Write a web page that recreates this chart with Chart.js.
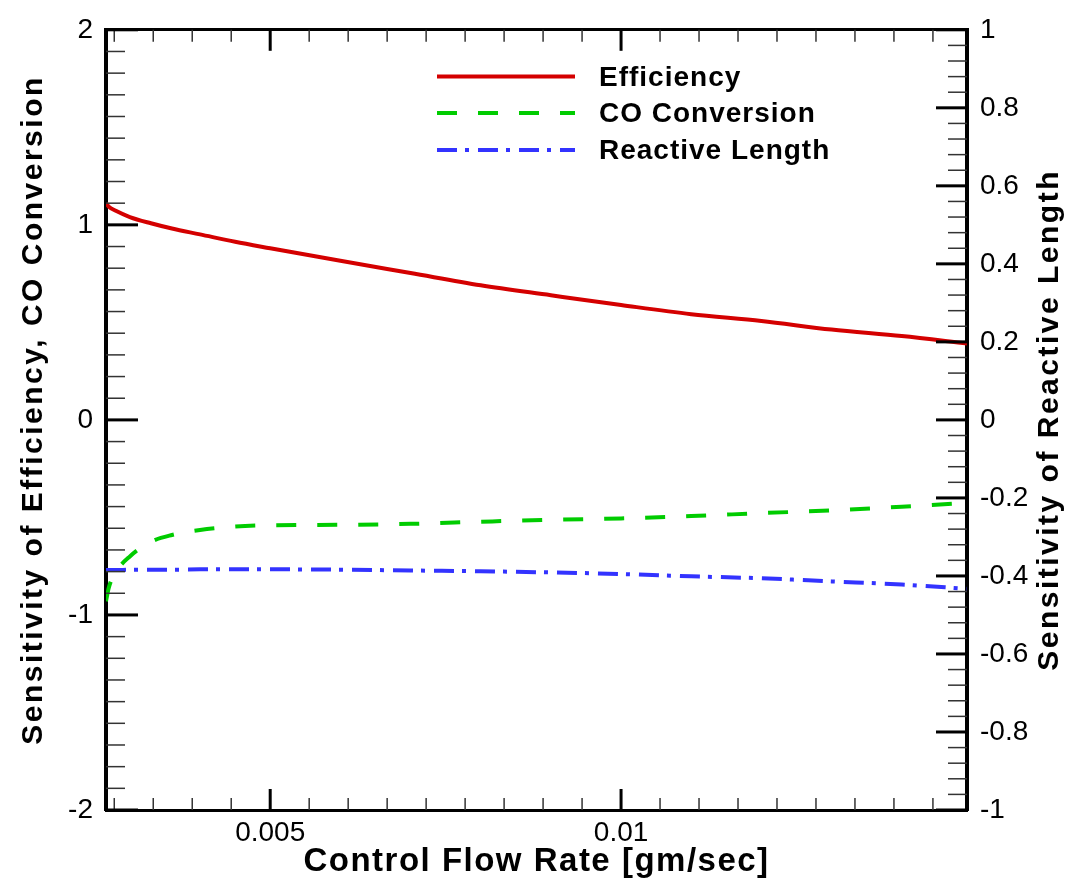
<!DOCTYPE html>
<html>
<head>
<meta charset="utf-8">
<script src="https://cdn.jsdelivr.net/npm/chart.js@4/dist/chart.umd.min.js"></script>
<style>
  html, body { margin: 0; padding: 0; background: #fff; }
  #wrap { width: 1069px; height: 881px; }
</style>
</head>
<body>
<div id="wrap"><canvas id="sens-chart" width="1069" height="881"></canvas></div>
<script>
// control flow rate [gm/sec]
const flowRate = [0.00266, 0.0027, 0.0028, 0.003, 0.0033, 0.0036, 0.004, 0.0045, 0.005, 0.006,
                  0.007, 0.008, 0.009, 0.01, 0.011, 0.012, 0.013, 0.014, 0.01493];
// left axis series
const efficiency = [1.11, 1.093, 1.072, 1.04, 1.008, 0.981, 0.951, 0.913, 0.88, 0.816,
                    0.753, 0.69, 0.639, 0.589, 0.542, 0.507, 0.463, 0.43, 0.392];
const coConversion = [-0.93, -0.86, -0.78, -0.70, -0.625, -0.59, -0.564, -0.547, -0.54, -0.538,
                      -0.533, -0.522, -0.512, -0.505, -0.493, -0.478, -0.464, -0.445, -0.425];
// right axis series
const reactiveLength = [-0.385, -0.385, -0.385, -0.384, -0.384, -0.384, -0.383, -0.383, -0.383, -0.384,
                        -0.386, -0.388, -0.391, -0.395, -0.401, -0.406, -0.414, -0.422, -0.433];

// labelled ticks
const xTicks = [0.005, 0.01];
const leftTicks = [-2, -1, 0, 1, 2];
const rightTicks = [-1, -0.8, -0.6, -0.4, -0.2, 0, 0.2, 0.4, 0.6, 0.8, 1];

const FONT = "'Liberation Sans', Arial, Helvetica, sans-serif";

function toPoints(ys) {
    return flowRate.map((x, i) => ({ x: x, y: ys[i] }));
}

// minor tick values between (and outside) the labelled ones
function minorValues(majors, div, min, max) {
    const step = (majors[1] - majors[0]) / div;
    const out = [];
    const k0 = -Math.floor((majors[0] - min) / step + 1e-9);
    for (let k = k0; ; k++) {
        const v = majors[0] + k * step;
        if (v > max + 1e-12) break;
        if (((k % div) + div) % div !== 0) out.push(v);
    }
    return out;
}

function seg(ctx, x1, y1, x2, y2, w, color) {
    ctx.beginPath();
    ctx.lineWidth = w;
    ctx.strokeStyle = color;
    ctx.moveTo(x1, y1);
    ctx.lineTo(x2, y2);
    ctx.stroke();
}

// inward tick marks, major and minor
const tickMarks = {
    id: 'tickMarks',
    afterDraw(chart) {
        const { ctx, chartArea: a, scales } = chart;
        ctx.save();
        ctx.lineCap = 'butt';
        const xs = scales.x;
        minorValues(xTicks, 9, xs.min, xs.max).forEach(v => {
            const p = xs.getPixelForValue(v);
            seg(ctx, p, a.bottom, p, a.bottom - 12, 1.5, '#333');
            seg(ctx, p, a.top, p, a.top + 12, 1.5, '#333');
        });
        xTicks.forEach(v => {
            const p = xs.getPixelForValue(v);
            seg(ctx, p, a.bottom, p, a.bottom - 21, 3, '#000');
            seg(ctx, p, a.top, p, a.top + 21, 3, '#000');
        });
        const yl = scales.y;
        minorValues(leftTicks, 9, yl.min, yl.max).forEach(v => {
            const p = yl.getPixelForValue(v);
            seg(ctx, a.left, p, a.left + 19, p, 1.5, '#333');
        });
        leftTicks.forEach(v => {
            const p = yl.getPixelForValue(v);
            seg(ctx, a.left, p, a.left + 32, p, 3, '#000');
        });
        const yr = scales.y2;
        minorValues(rightTicks, 5, yr.min, yr.max).forEach(v => {
            const p = yr.getPixelForValue(v);
            seg(ctx, a.right, p, a.right - 19, p, 1.5, '#333');
        });
        rightTicks.forEach(v => {
            const p = yr.getPixelForValue(v);
            seg(ctx, a.right, p, a.right - 31, p, 3, '#000');
        });
        ctx.restore();
    }
};

// axis titles, both vertical ones read bottom to top
const axisTitles = {
    id: 'axisTitles',
    afterDraw(chart) {
        const { ctx, chartArea: a } = chart;
        ctx.save();
        ctx.fillStyle = '#000';
        ctx.textAlign = 'center';
        ctx.textBaseline = 'alphabetic';

        ctx.font = 'bold 33px ' + FONT;
        ctx.letterSpacing = '1.5px';
        ctx.fillText('Control Flow Rate [gm/sec]', (a.left + a.right) / 2, 871);

        ctx.font = 'bold 30px ' + FONT;
        ctx.letterSpacing = '2.5px';
        ctx.save();
        ctx.translate(42, 410);
        ctx.rotate(-Math.PI / 2);
        ctx.fillText('Sensitivity of Efficiency, CO Conversion', 0, 0);
        ctx.restore();

        ctx.save();
        ctx.translate(1058, (a.top + a.bottom) / 2);
        ctx.rotate(-Math.PI / 2);
        ctx.fillText('Sensitivity of Reactive Length', 0, 0);
        ctx.restore();
        ctx.restore();
    }
};

// legend inside the plot, using each dataset's own line style
const lineLegend = {
    id: 'lineLegend',
    afterDraw(chart) {
        const ctx = chart.ctx;
        const rows = [76.5, 113, 150];
        ctx.save();
        ctx.font = 'bold 28px ' + FONT;
        ctx.letterSpacing = '1px';
        ctx.textAlign = 'left';
        ctx.textBaseline = 'alphabetic';
        chart.data.datasets.forEach((ds, i) => {
            const y = rows[i];
            ctx.beginPath();
            ctx.lineCap = 'butt';
            ctx.lineWidth = ds.borderWidth;
            ctx.strokeStyle = ds.borderColor;
            ctx.setLineDash(ds.borderDash || []);
            ctx.moveTo(437, y);
            ctx.lineTo(575, y);
            ctx.stroke();
            ctx.setLineDash([]);
            ctx.fillStyle = '#000';
            ctx.fillText(ds.label, 599, y + 9);
        });
        ctx.restore();
    }
};

const xMin = 0.00266;
const xMax = 0.01493;

new Chart(document.getElementById('sens-chart').getContext('2d'), {
    type: 'line',
    data: {
        datasets: [
            {
                label: 'Efficiency',
                data: toPoints(efficiency),
                yAxisID: 'y',
                borderColor: '#d40000',
                borderWidth: 4,
                cubicInterpolationMode: 'monotone',
                pointRadius: 0,
                fill: false
            },
            {
                label: 'CO Conversion',
                data: toPoints(coConversion),
                yAxisID: 'y',
                borderColor: '#00cc00',
                borderWidth: 4,
                borderDash: [20, 21],
                borderCapStyle: 'butt',
                cubicInterpolationMode: 'monotone',
                pointRadius: 0,
                fill: false
            },
            {
                label: 'Reactive Length',
                data: toPoints(reactiveLength),
                yAxisID: 'y2',
                borderColor: '#3333ff',
                borderWidth: 4,
                borderDash: [20, 8, 4, 9],
                borderCapStyle: 'butt',
                cubicInterpolationMode: 'monotone',
                pointRadius: 0,
                fill: false
            }
        ]
    },
    options: {
        responsive: false,
        animation: false,
        layout: { padding: 0 },
        plugins: {
            legend: { display: false },
            tooltip: { enabled: false }
        },
        scales: {
            x: {
                type: 'linear',
                position: 'bottom',
                min: xMin,
                max: xMax,
                afterBuildTicks: s => { s.ticks = xTicks.map(v => ({ value: v })); },
                ticks: {
                    callback: v => String(v),
                    font: { family: FONT, size: 28 },
                    color: '#000',
                    padding: 6,
                    maxRotation: 0,
                    autoSkip: false
                },
                grid: { display: false, drawTicks: false },
                border: { display: true, color: '#000', width: 3 },
                afterFit: s => { s.height = 71; }
            },
            x2: {
                type: 'linear',
                position: 'top',
                min: xMin,
                max: xMax,
                ticks: { display: false },
                grid: { display: false, drawTicks: false },
                border: { display: true, color: '#000', width: 3 },
                afterFit: s => { s.height = 23; }
            },
            y: {
                type: 'linear',
                position: 'left',
                min: -2,
                max: 2,
                afterBuildTicks: s => { s.ticks = leftTicks.map(v => ({ value: v })); },
                ticks: {
                    callback: v => String(v),
                    font: { family: FONT, size: 28 },
                    color: '#000',
                    padding: 13,
                    autoSkip: false
                },
                grid: { display: false, drawTicks: false },
                border: { display: true, color: '#000', width: 4 },
                afterFit: s => { s.width = 106; }
            },
            y2: {
                type: 'linear',
                position: 'right',
                min: -1,
                max: 1,
                afterBuildTicks: s => { s.ticks = rightTicks.map(v => ({ value: v })); },
                ticks: {
                    callback: v => String(Math.round(v * 10) / 10),
                    font: { family: FONT, size: 28 },
                    color: '#000',
                    padding: 13,
                    autoSkip: false
                },
                grid: { display: false, drawTicks: false },
                border: { display: true, color: '#000', width: 4 },
                afterFit: s => { s.width = 102; }
            }
        }
    },
    plugins: [tickMarks, axisTitles, lineLegend]
});
</script>
</body>
</html>
